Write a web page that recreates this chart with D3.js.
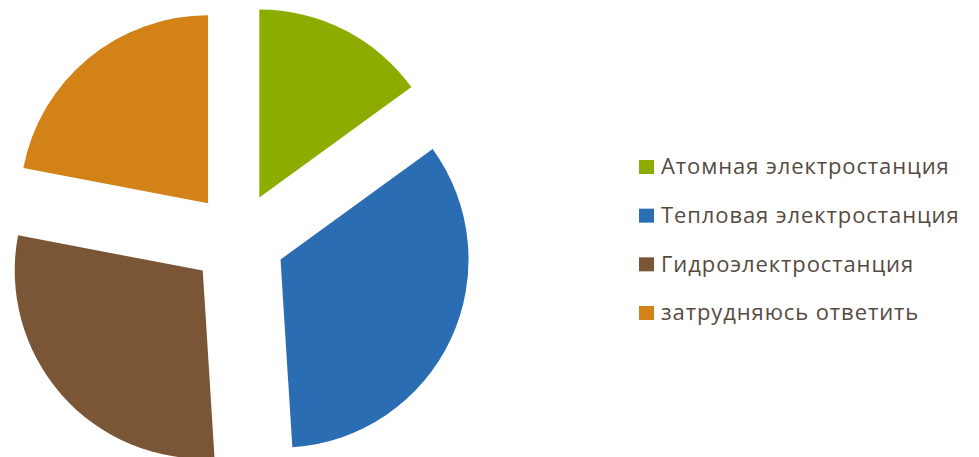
<!DOCTYPE html>
<html><head><meta charset="utf-8">
<script src="https://cdn.jsdelivr.net/npm/d3@7"></script>
<style>body{margin:0;background:#fff;}svg{display:block;}</style>
</head><body>
<svg id="chart" width="979" height="457"></svg>
<script>
const categories = ["Атомная электростанция","Тепловая электростанция","Гидроэлектростанция","затрудняюсь ответить"];
const values = [15, 34, 29, 22];
const colors = ["#8cac00","#2b6db3","#7a5637","#d38218"];

const svg = d3.select("#chart");
const cx = 238, cy = 239.5, R = 188, explode = 47;
const pie = d3.pie().sort(null).value(d => d)(values);
const arc = d3.arc().innerRadius(0).outerRadius(R);
const g = svg.append("g").attr("transform", `translate(${cx},${cy})`);
g.selectAll("path").data(pie).enter().append("path")
  .attr("d", arc)
  .attr("fill", (d,i) => colors[i])
  .attr("transform", d => {
    const a = (d.startAngle + d.endAngle) / 2;
    return `translate(${Math.sin(a)*explode},${-Math.cos(a)*explode})`;
  });

const y = d3.scalePoint().domain(categories).range([167, 313]);
const leg = svg.append("g");
const item = leg.selectAll("g").data(categories).enter().append("g")
  .attr("transform", d => `translate(639,${y(d)})`);
item.append("rect").attr("x",0).attr("y",-7).attr("width",15).attr("height",14)
  .attr("fill", (d,i) => colors[i]);
item.append("text").attr("x",22).attr("y",7.3)
  .attr("font-family","'Open Sans', sans-serif").attr("font-size",22)
  .attr("letter-spacing","0.9px")
  .attr("fill","#574a3f").text(d => d);
</script>
</body></html>
